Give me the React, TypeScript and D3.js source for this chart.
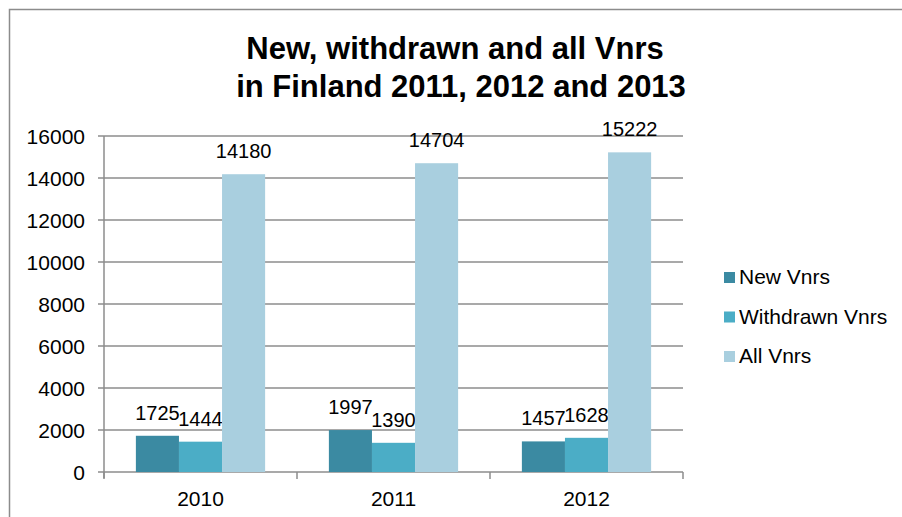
import React from 'react';
import { scaleBand, scaleLinear } from 'd3';

const years = ['2010', '2011', '2012'];
const seriesNames = ['New Vnrs', 'Withdrawn Vnrs', 'All Vnrs'];
const newVnrs = [1725, 1997, 1457];
const withdrawnVnrs = [1444, 1390, 1628];
const allVnrs = [14180, 14704, 15222];
const yTicks = [0, 2000, 4000, 6000, 8000, 10000, 12000, 14000, 16000];
const colors = ['#3b8aa2', '#4badc6', '#a9cfdf'];

const W = 902;
const H = 517;
const font = 'Liberation Sans, Arial, sans-serif';

const App = () => {
  const series = [newVnrs, withdrawnVnrs, allVnrs];
  const x0 = scaleBand().domain(years).range([104, 683]);
  const x1 = scaleBand()
    .domain(seriesNames)
    .range([0, x0.bandwidth()])
    .paddingOuter(0.74)
    .paddingInner(0);
  const y = scaleLinear().domain([0, 16000]).range([472, 136]);

  return (
    <svg width={W} height={H} style={{ position: 'absolute', left: 0, top: 0 }}>
      <rect x={0} y={0} width={W} height={H} fill="#fff" />
      <rect x={9.5} y={9.5} width={W + 20} height={H + 20} fill="none" stroke="#8c8c8c" strokeWidth={1.5} />

      <text x={455} y={59} textAnchor="middle" fontFamily={font} fontWeight="bold" fontSize={31}>
        New, withdrawn and all Vnrs
      </text>
      <text x={461} y={97} textAnchor="middle" fontFamily={font} fontWeight="bold" fontSize={31}>
        in Finland 2011, 2012 and 2013
      </text>

      {yTicks.map(t => (
        <g key={t}>
          <line x1={98} x2={683} y1={y(t)} y2={y(t)} stroke="#8c8c8c" strokeWidth={1.5} />
          <text x={85} y={y(t) + 7.5} textAnchor="end" fontFamily={font} fontSize={21} fill="#000">
            {t}
          </text>
        </g>
      ))}
      <line x1={104} x2={104} y1={136} y2={478} stroke="#8c8c8c" strokeWidth={1.5} />
      {[...years.map(d => x0(d) as number), 683].map((px, i) => (
        <line key={i} x1={px} x2={px} y1={472} y2={479} stroke="#8c8c8c" strokeWidth={1.5} />
      ))}

      {years.map((yr, i) => (
        <g key={yr}>
          {series.map((vals, s) => {
            const bx = (x0(yr) as number) + (x1(seriesNames[s]) as number);
            return (
              <g key={s}>
                <rect x={bx} y={y(vals[i])} width={x1.bandwidth()} height={472 - y(vals[i])} fill={colors[s]} />
                <text
                  x={bx + x1.bandwidth() / 2}
                  y={y(vals[i]) - 16}
                  textAnchor="middle"
                  fontFamily={font}
                  fontSize={20}
                  fill="#000"
                >
                  {vals[i]}
                </text>
              </g>
            );
          })}
          <text
            x={(x0(yr) as number) + x0.bandwidth() / 2}
            y={506}
            textAnchor="middle"
            fontFamily={font}
            fontSize={21}
            fill="#000"
          >
            {yr}
          </text>
        </g>
      ))}

      {seriesNames.map((name, s) => (
        <g key={name} transform={`translate(724, ${272 + s * 39.5})`}>
          <rect x={0} y={0} width={11} height={11} fill={colors[s]} />
          <text x={15} y={12} fontFamily={font} fontSize={21} fill="#000">
            {name}
          </text>
        </g>
      ))}
    </svg>
  );
};

export default App;
